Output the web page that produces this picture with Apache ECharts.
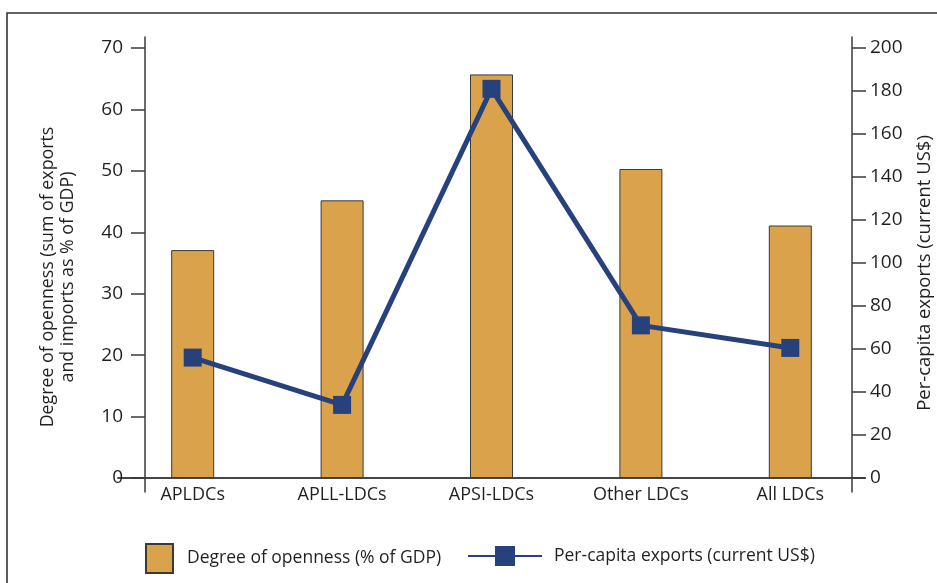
<!DOCTYPE html>
<html>
<head>
<meta charset="utf-8">
<script src="https://cdn.jsdelivr.net/npm/echarts@6/dist/echarts.min.js"></script>
<style>
html,body{margin:0;padding:0;background:#fff;}
#chart{width:937px;height:583px;}
</style>
</head>
<body>
<div id="chart"></div>
<script>
const categories = ['APLDCs', 'APLL-LDCs', 'APSI-LDCs', 'Other LDCs', 'All LDCs'];
const openness = [37.1, 45.2, 65.7, 50.3, 41.1];
const perCapitaExports = [56, 34, 181, 71, 60.5];
const leftTicks = { min: 0, max: 70, interval: 10 };
const rightTicks = { min: 0, max: 200, interval: 20 };
const barName = 'Degree of openness (% of GDP)';
const lineName = 'Per-capita exports (current US$)';
const leftTitle = 'Degree of openness (sum of exports\nand imports as % of GDP)';
const rightTitle = 'Per-capita exports (current US$)';

const FONT = 'Open Sans';
const TXT = '#231f20';
const AX = '#3a3a3a';

const chart = echarts.init(document.getElementById('chart'), null, { renderer: 'canvas' });
chart.setOption({
  animation: false,
  backgroundColor: '#fff',
  textStyle: { fontFamily: FONT },
  graphic: [{
    type: 'rect', silent: true,
    shape: { x: 7, y: 13, width: 1000, height: 1000 },
    style: { fill: 'none', stroke: '#333', lineWidth: 1.6 }
  }],
  grid: [
    { left: 118, right: 72, top: 48, bottom: 105, containLabel: false, outerBoundsMode: 'none' },
    { left: 118, right: 72, top: 37, bottom: 91, containLabel: false, outerBoundsMode: 'none' }
  ],
  legend: [
    {
      data: [{ name: barName, icon: 'rect' }], left: 145, top: 543, padding: 0,
      itemWidth: 27, itemHeight: 29,
      textStyle: { fontFamily: FONT, fontSize: 17.5, color: TXT, padding: [0, 0, 0, 9] }
    },
    {
      data: [lineName], left: 467, top: 546, padding: 0, itemWidth: 74, itemHeight: 25,
      textStyle: { fontFamily: FONT, fontSize: 17.5, color: TXT, padding: [0, 0, 0, 7] }
    }
  ],
  xAxis: [
    {
      type: 'category', data: categories, gridIndex: 0, position: 'bottom',
      axisLine: { lineStyle: { color: AX, width: 1.5 } },
      axisTick: { show: false },
      axisLabel: { fontFamily: FONT, fontSize: 18, color: TXT, margin: 8 }
    },
    {
      type: 'category', data: categories, gridIndex: 0, position: 'top',
      axisLine: { lineStyle: { color: AX, width: 1.5 } },
      axisTick: { show: false }, axisLabel: { show: false }
    },
    { type: 'category', data: categories, gridIndex: 1, show: false }
  ],
  yAxis: [
    {
      type: 'value', gridIndex: 0, position: 'left', offset: -27,
      min: leftTicks.min, max: leftTicks.max, interval: leftTicks.interval,
      axisLine: { show: false },
      axisTick: { show: true, length: 14, lineStyle: { color: AX, width: 1.5 } },
      splitLine: { show: false },
      axisLabel: { fontFamily: FONT, fontSize: 19, color: TXT, margin: 22 },
      name: leftTitle, nameLocation: 'middle', nameRotate: 90, nameGap: 67,
      nameTextStyle: { fontFamily: FONT, fontSize: 17.8, color: TXT, lineHeight: 20, align: 'center', padding: [0, 28, 0, 0] }
    },
    {
      type: 'value', gridIndex: 0, position: 'right', offset: -13,
      min: rightTicks.min, max: rightTicks.max, interval: rightTicks.interval,
      axisLine: { show: false },
      axisTick: { show: true, length: 14, lineStyle: { color: AX, width: 1.5 } },
      splitLine: { show: false },
      axisLabel: { fontFamily: FONT, fontSize: 19, color: TXT, margin: 18 },
      name: rightTitle, nameLocation: 'middle', nameRotate: 90, nameGap: 63,
      nameTextStyle: { fontFamily: FONT, fontSize: 18.5, color: TXT, padding: [0, 20, 0, 0] }
    },
    {
      type: 'value', gridIndex: 1, position: 'left', offset: -27, min: 0, max: 1,
      axisLine: { show: true, lineStyle: { color: AX, width: 1.5 } },
      axisTick: { show: false }, axisLabel: { show: false }, splitLine: { show: false }
    },
    {
      type: 'value', gridIndex: 1, position: 'right', offset: -13, min: 0, max: 1,
      axisLine: { show: true, lineStyle: { color: AX, width: 1.5 } },
      axisTick: { show: false }, axisLabel: { show: false }, splitLine: { show: false }
    }
  ],
  series: [
    {
      name: barName, type: 'bar', xAxisIndex: 0, yAxisIndex: 0,
      data: openness, barWidth: 43,
      itemStyle: { color: '#dba24c', borderColor: '#3a3a3a', borderWidth: 1 }
    },
    {
      name: lineName, type: 'line', xAxisIndex: 0, yAxisIndex: 1,
      data: perCapitaExports, symbol: 'rect', symbolSize: 18,
      lineStyle: { color: '#27417d', width: 5 },
      itemStyle: { color: '#27417d' }
    }
  ]
});
</script>
</body>
</html>
